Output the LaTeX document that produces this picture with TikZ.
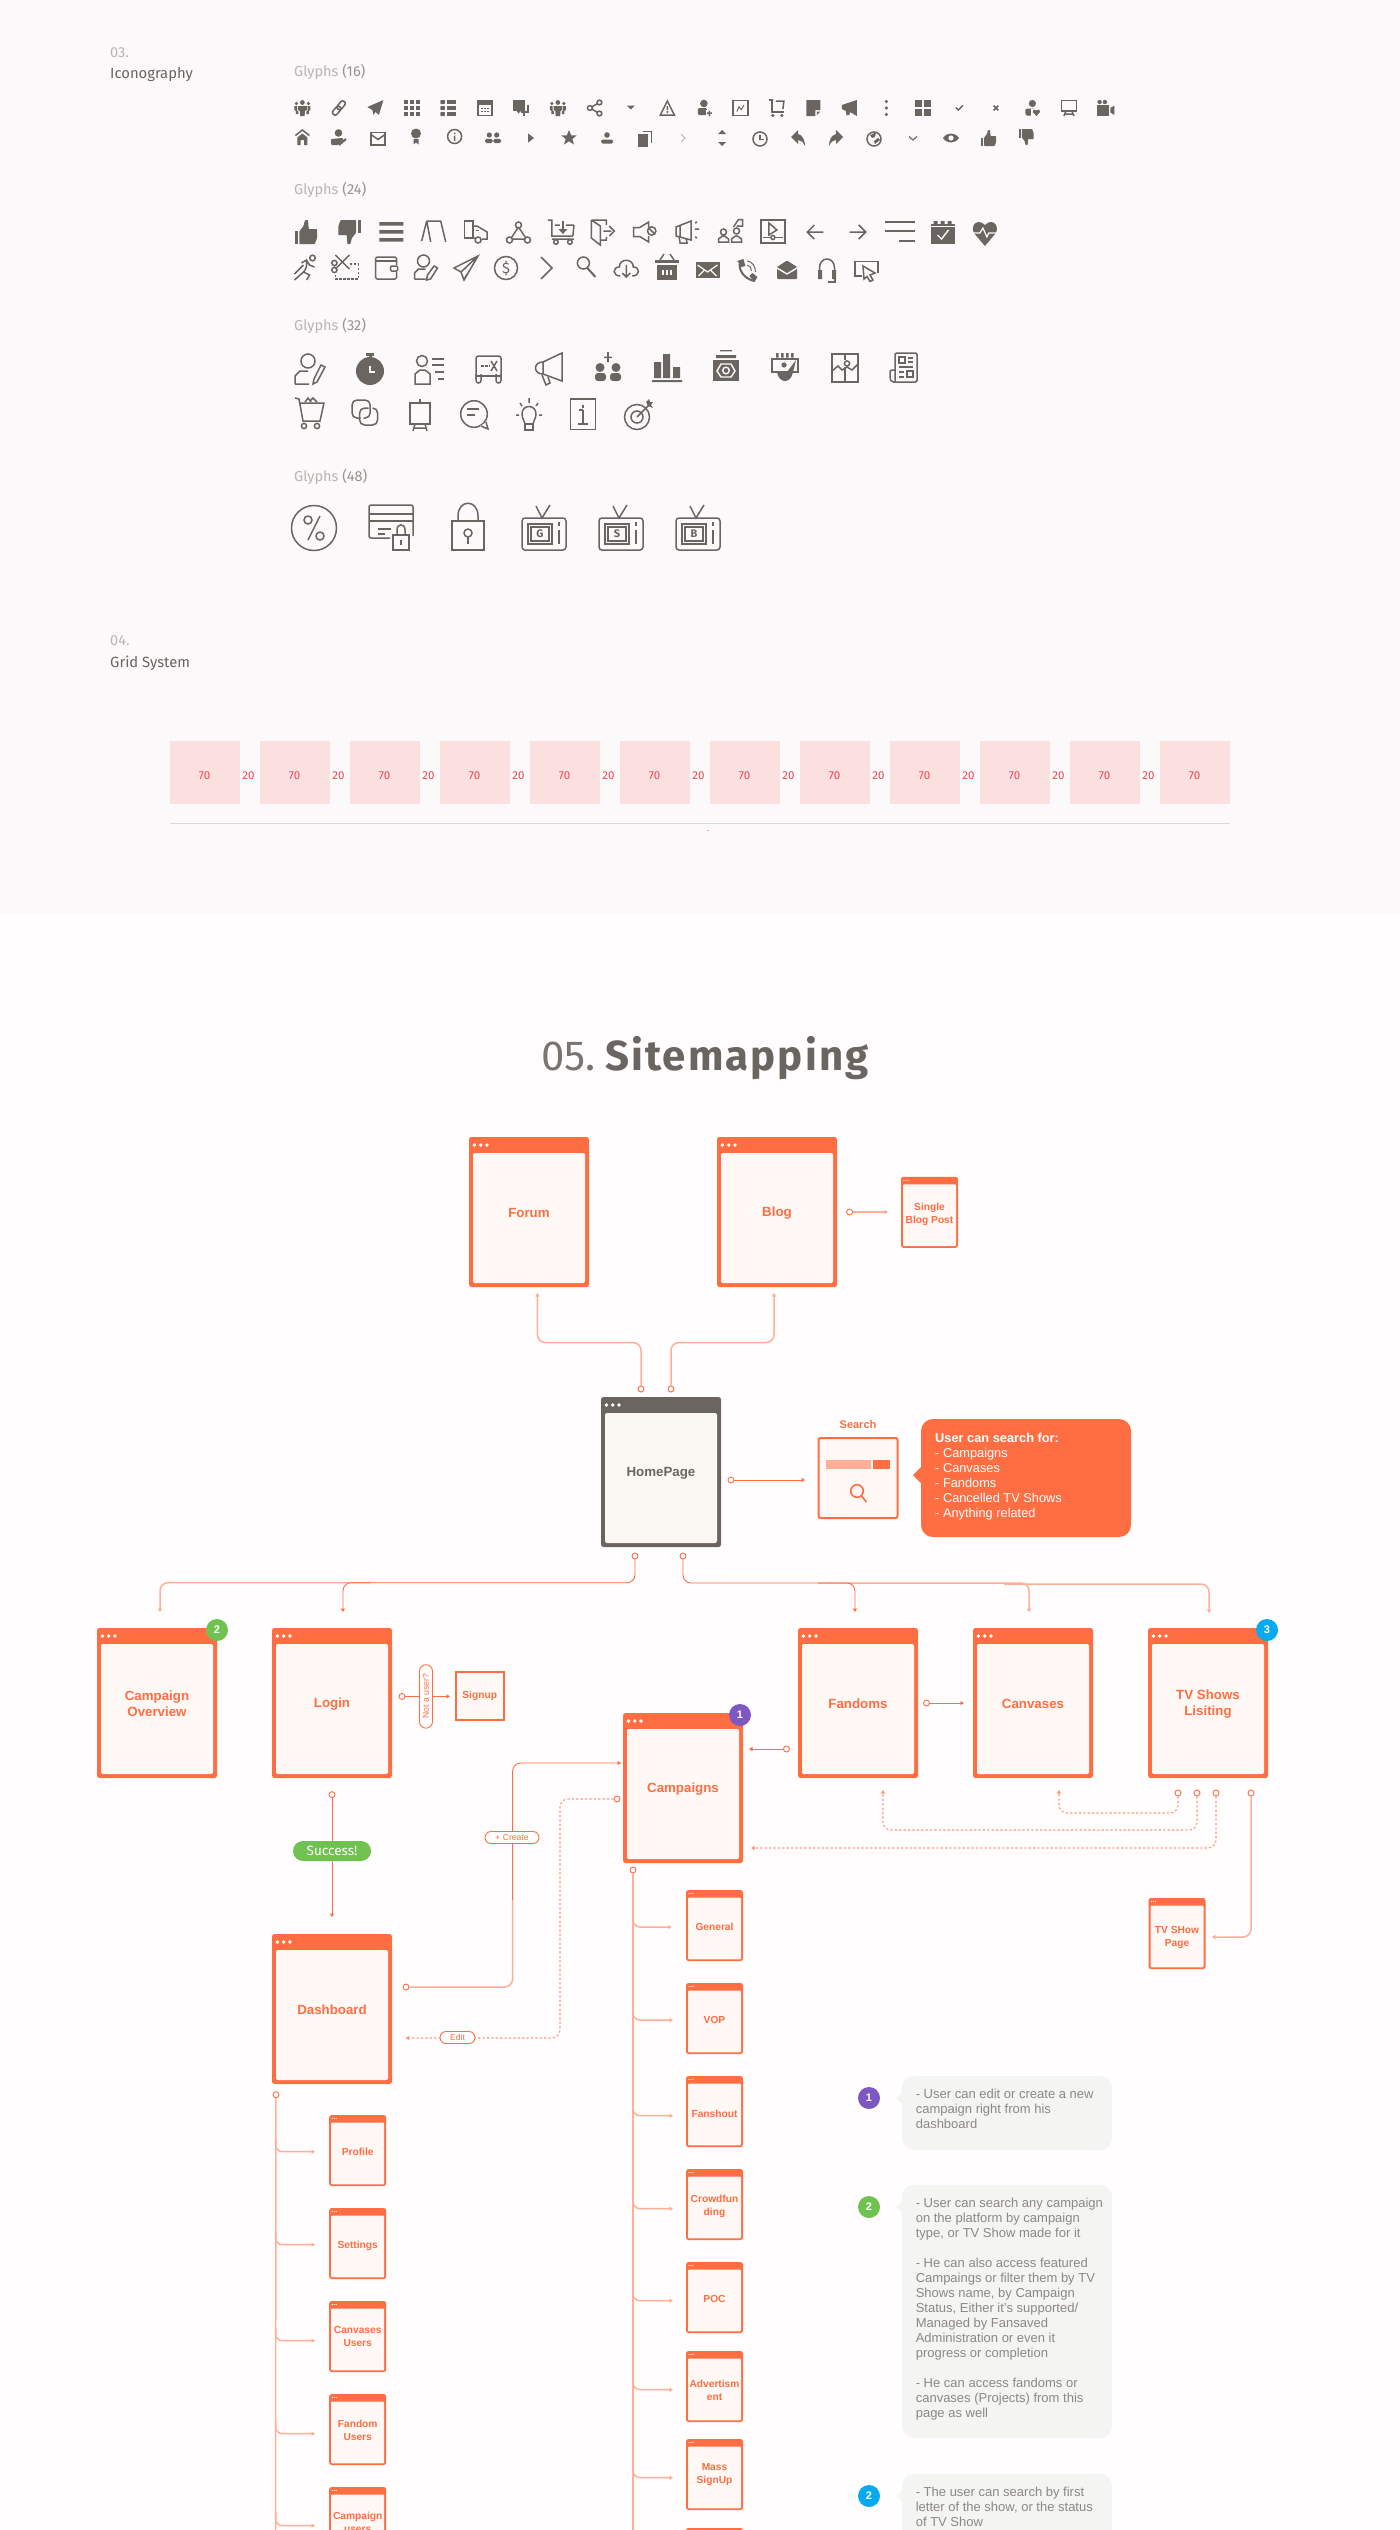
\documentclass[tikz,border=0pt]{standalone}
\usepackage{fontspec}
\setmainfont{Liberation Sans}
\newfontfamily\din{Fira Sans}
\newfontfamily\dinw[LetterSpace=5]{Fira Sans}
\usetikzlibrary{arrows.meta}
\definecolor{bgtop}{HTML}{FBF9F9}
\definecolor{bgpage}{HTML}{FFFDFD}
\definecolor{ic}{HTML}{6B6561}
\definecolor{og}{HTML}{FF6D42}
\definecolor{lt}{HTML}{FFAF98}
\definecolor{wf}{HTML}{FFF8F5}
\definecolor{hf}{HTML}{FBF8F4}
\definecolor{gridp}{HTML}{FCE0E0}
\definecolor{gridt}{HTML}{F2434F}
\definecolor{notef}{HTML}{F4F4F3}
\definecolor{notet}{HTML}{8B8886}
\definecolor{gr}{HTML}{6FC24F}
\definecolor{pu}{HTML}{7D57C2}
\definecolor{bl}{HTML}{09A9F0}
\definecolor{glab}{HTML}{B8B5B3}
\tikzset{
 x=1pt,y=-1pt,
 ii/.style={draw=ic,line width=1.5pt,fill=none},
 thinl/.style={draw=ic,line width=1pt,fill=none},
 conn/.style={draw=og,line width=.9pt,rounded corners=8pt,-{Triangle[length=3.5pt,width=4pt]}},
 lconn/.style={draw=lt,line width=1.5pt,rounded corners=8pt,-{Triangle[length=3.5pt,width=4pt,fill=og]}},
 plain/.style={draw=lt,line width=1.5pt},
 dconn/.style={draw=og!70!white,line width=1.1pt,dash pattern=on 2.2pt off 2.2pt,rounded corners=8pt,-{Triangle[length=3.5pt,width=4pt,fill=og]}},
 port/.style={circle,draw=og,line width=.9pt,fill=bgpage,minimum size=6pt,inner sep=0pt},
 shell/.style={rectangle,rounded corners=2.5pt,inner sep=0pt},
 wintxt/.style={text=og,font=\fontsize{13.3}{15.7}\selectfont\bfseries,align=center,inner sep=0pt},
 smalltxt/.style={text=og,font=\fontsize{10.2}{13}\selectfont\bfseries,align=center,inner sep=0pt},
 badge/.style={circle,minimum size=22pt,inner sep=0pt,text=white,font=\fontsize{11}{11}\selectfont\bfseries},
 pill/.style={draw=og,line width=.9pt,fill=bgpage,text=og,inner sep=0pt,font=\fontsize{8.6}{9}\selectfont},
 notetxt/.style={text=notet,font=\fontsize{13}{15}\selectfont,align=left,anchor=north west,inner sep=0pt},
 glabel/.style={text=glab,font=\din\fontsize{14.5}{15}\selectfont,anchor=west,inner sep=0pt},
 sect/.style={text=glab,font=\din\fontsize{14.5}{15}\selectfont,anchor=west,inner sep=0pt},
 secth/.style={text=ic,font=\din\fontsize{14.8}{15}\selectfont,anchor=west,inner sep=0pt},
 gridlab/.style={text=gridt,font=\din\fontsize{11.5}{12}\selectfont,inner sep=0pt},
 cnote/.style={text=white,font=\fontsize{12.8}{15}\selectfont,align=left,anchor=north west,inner sep=0pt}
}
\newcommand\I[3]{\begin{scope}[shift={(#1,#2)}]#3\end{scope}}
\newcommand\pers[3]{\fill[ic] (#1,#2) circle (#3); \fill[ic,rounded corners=1.2pt] ({#1-1.6*#3},{#2+1.3*#3}) rectangle ({#1+1.6*#3},{#2+3.9*#3});}
\newcommand\thumb{\fill[ic] (-8,-.5) rectangle (-5.8,8); \fill[ic,rounded corners=.6pt] (-4.8,-.5) -- (-2,-4) -- (-1,-8) -- (1,-8) -- (1.5,-2) -- (7,-2) -- (7,4) -- (5.5,8) -- (-4.8,8) -- cycle;}
\newcommand\group{\fill[ic] (0,-5.5) circle (2.4) (-6,-4.5) circle (1.8) (6,-4.5) circle (1.8); \fill[ic] (-4.4,-2) -- (4.4,-2) -- (4.4,2) -- (2.6,3) -- (2.2,8) -- (-2.2,8) -- (-2.6,3) -- (-4.4,2) -- cycle; \fill[ic] (-8,-2) -- (-5.3,-2) -- (-5.3,2.5) -- (-4,3.5) -- (-4,6) -- (-6.5,6) -- (-6.5,3) -- (-8,2) -- cycle (8,-2) -- (5.3,-2) -- (5.3,2.5) -- (4,3.5) -- (4,6) -- (6.5,6) -- (6.5,3) -- (8,2) -- cycle;}
\newcommand\arrowback{\fill[ic] (-7,-1) -- (0,-8) -- (0,-4) .. controls (5,-3) and (7,3) .. (7,8) .. controls (5,4) and (3,2) .. (0,2) -- (0,6) -- cycle;}
\newcommand\bigwin[4]{%
 \node[shell,fill=og,minimum width=120pt,minimum height=150pt] (#1) at (#2,#3) {};
 \begin{scope}[shift={(#2,#3)}]
 \fill[fill=wf,rounded corners=2pt] (-56,-59) rectangle (56,71);
 \foreach \d in {-54.6,-48.3,-42} \fill[white] (\d,-67) circle (1.9);
 \end{scope}
 \node[wintxt] (#1t) at (#2,{#3+1}) {#4};}
\newcommand\smallwin[5]{%
 \node[shell,fill=og,minimum width=57pt,minimum height=71pt] (#1) at (#2,#3) {};
 \begin{scope}[shift={(#2,#3)}]
 \fill[fill=wf,rounded corners=1pt] (-26.5,-28) rectangle (26.5,33.8);
 \foreach \d in {-25.5,-23.5,-21.5} \fill[white] (\d,-32) circle (.6);
 \end{scope}
 \node[smalltxt] (#1t) at (#2,{#3+#5}) {#4};}
\newcommand\branch[4]{\coordinate (#1) at (#2,#3); \draw[lconn,rounded corners=7pt] (#4,{#3-13}) -- (#4,#3) -- (#1);}
\newcommand\notebox[3]{\fill[notef,rounded corners=12pt] (902,#1) rectangle (1112,#2); \fill[notef] (896,#3) -- (903,{#3-6}) -- (903,{#3+6}) -- cycle;}
\begin{document}
\begin{tikzpicture}
\useasboundingbox (0,0) rectangle (1400,2530);
\clip (0,0) rectangle (1400,2530);
\fill[bgpage] (0,0) rectangle (1400,2530);
\fill[bgtop] (0,0) rectangle (1400,913);
% headings
\node[sect] (s3) at (110,53) {03.};
\node[secth] (s3h) at (110,75) {Iconography};
\node[sect] (s4) at (110,641) {04.};
\node[secth] (s4h) at (110,663) {Grid System};
\node[glabel] (g16) at (294,72) {Glyphs \textcolor{ic!70}{(16)}};
\node[glabel] (g24) at (294,190) {Glyphs \textcolor{ic!70}{(24)}};
\node[glabel] (g32) at (294,326) {Glyphs \textcolor{ic!70}{(32)}};
\node[glabel] (g48) at (294,477) {Glyphs \textcolor{ic!70}{(48)}};
% ---------- 16 px row 1
\I{302.4}{108}{\group}
\I{338.9}{108}{\draw[ii,rounded corners=2.5pt,rotate=50] (-8.5,-2.6) rectangle (1.5,2.6) (-1.5,-2.6) rectangle (8.5,2.6);}
\I{375.4}{108}{\fill[ic] (8,-8) -- (-8,-1) -- (-3,2) -- (-2,7) -- (0,3.8) -- (3.5,7) -- cycle;}
\I{411.9}{108}{\foreach \u in {-8,-2,4} \foreach \v in {-8,-2,4} \fill[ic] (\u,\v) rectangle +(4,4);}
\I{448.4}{108}{\foreach \v in {-8,-2,4} {\fill[ic,rounded corners=.6pt] (-8,\v) rectangle +(4.5,4); \fill[ic] (-1.5,\v) rectangle +(9.5,4);}}
\I{484.9}{108}{\draw[ii] (-7,-5) rectangle (7,7.5); \fill[ic] (-7.7,-8.5) rectangle (7.7,-3); \foreach \u in {-3.5,-.5,2.5} \foreach \v in {-.5,2.5} \fill[ic] (\u,\v) rectangle +(1.6,1.6);}
\I{521.4}{108}{\fill[ic] (-8,-8) rectangle (4,2.5); \fill[ic] (-5,2.5) -- (0,2.5) -- (-3,5.5) -- cycle; \draw[ii] (6.5,-3) -- (6.5,4) -- (0,4) (2.5,4) -- (2.5,8);}
\I{557.9}{108}{\group}
\I{594.4}{108}{\draw[ii] (5,-5.5) -- (-4.5,0) -- (5,5.5); \foreach \p in {(5,-5.5),(-4.5,0),(5,5.5)} \draw[ii,fill=bgtop] \p circle (2.4);}
\I{630.9}{108}{\fill[ic] (-4,-2.5) -- (4,-2.5) -- (0,1.5) -- cycle;}
\I{667.4}{108}{\draw[ii] (0,-7) -- (7,7) -- (-7,7) -- cycle; \fill[ic] (-.8,-2) rectangle (.8,2) (-.8,3) rectangle (.8,5);}
\I{703.9}{108}{\fill[ic] (0,-4.5) circle (3.8); \fill[ic,rounded corners=1.2pt] (-6,0) rectangle (3,7); \fill[bgtop] (2,2) rectangle (9,9); \fill[ic] (3,4.4) rectangle (8,5.8) (4.8,2.5) rectangle (6.2,8);}
\I{740.4}{108}{\draw[ii] (-7.5,-7.5) rectangle (7.5,7.5); \draw[thinl] (-3.5,3.5) -- (-1.5,-1) -- (1,1.5) -- (3.5,-3);}
\I{776.9}{108}{\draw[ii] (-8,-8) -- (-5,-8) -- (-5,4) -- (7,4); \draw[ii] (-1,-7) -- (7,-7) -- (6,1); \fill[ic] (-4,7.5) circle (1.7) (5,7.5) circle (1.7);}
\I{813.4}{108}{\fill[ic] (-7,-8) -- (7,-8) -- (7,2) -- (2,2) -- (2,8) -- (-7,8) -- cycle; \fill[ic] (3.5,3.5) -- (7,3.5) -- (3.5,7) -- cycle;}
\I{849.9}{108}{\fill[ic] (-8,-3) -- (7,-8) -- (7,8) -- (0,4) -- (-.5,7) -- (-3.5,7) -- (-4,3) -- (-8,1) -- cycle;}
\I{886.4}{108}{\foreach \v in {-6.5,0,6.5} \fill[ic] (0,\v) circle (1.8);}
\I{922.9}{108}{\foreach \u in {-8,.8} \foreach \v in {-8,.8} \fill[ic] (\u,\v) rectangle +(7.2,7.2);}
\I{959.4}{108}{\draw[ic,line width=1.3pt] (-3.5,-.5) -- (-1,2) -- (3.5,-2.5);}
\I{995.9}{108}{\draw[ic,line width=1.6pt] (-2.4,-2.4) -- (2.4,2.4) (2.4,-2.4) -- (-2.4,2.4);}
\I{1032.4}{108}{\fill[ic] (0,-4.5) circle (3.6); \fill[ic,rounded corners=1.5pt] (-7,0.5) rectangle (3,7.5); \fill[bgtop] (-1,1) -- (9,1) -- (9,9) -- (-1,9) -- cycle; \fill[ic] (4,8) -- (.3,4) .. controls (-.5,1.5) and (2.5,.5) .. (4,2.5) .. controls (5.5,.5) and (8.5,1.5) .. (7.7,4) -- cycle;}
\I{1068.9}{108}{\draw[ii] (-7.5,-7.5) rectangle (7.5,3); \draw[ii] (-3,3) -- (-5,8) (3,3) -- (5,8) (-4.5,6) -- (4.5,6);}
\I{1105.4}{108}{\fill[ic] (-5.8,-6) circle (2.2) (-.5,-6) circle (2.2); \fill[ic] (-8,-3) rectangle (4,7.5); \fill[ic] (5,0) -- (9,-2.5) -- (9,7) -- (5,4.5) -- cycle;}
% 16 px row 2
\I{302.4}{138}{\draw[ii] (-7,-2.5) -- (0,-8) -- (7,-2.5); \fill[ic] (-5,-.5) -- (0,-4.5) -- (5,-.5) -- (5,7) -- (1.8,7) -- (1.8,2) -- (-1.8,2) -- (-1.8,7) -- (-5,7) -- cycle;}
\I{339}{138}{\fill[ic] (-.5,-5) circle (3.8); \fill[ic,rounded corners=1pt] (-8,7) -- (-8,1) -- (3,0) -- (5,1) -- (-1,7) -- cycle; \draw[ic,line width=2pt] (0,7) -- (7,1);}
\I{378}{138}{\draw[ii] (-7,-5.5) rectangle (7,7); \draw[ii] (-7,-3.5) -- (0,1.5) -- (7,-3.5);}
\I{416}{138}{\fill[ic] (0,-4.5) circle (5); \fill[ic] (-2.5,1) -- (2.5,1) -- (2.5,6.5) -- (0,4.5) -- (-2.5,6.5) -- cycle;}
\I{454.6}{138}{\draw[ii] (0,-1.5) circle (7); \fill[ic] (-.8,-2.5) rectangle (.8,3) (-.8,-5.5) rectangle (.8,-3.8);}
\I{493}{138}{\fill[ic] (-3.7,-3) circle (2.6) (3.7,-3) circle (2.6); \fill[ic,rounded corners=1.5pt] (-8,.8) rectangle (-.3,5) (.3,.8) rectangle (8,5);}
\I{531}{138}{\fill[ic] (-2.8,-4.5) -- (3,0) -- (-2.8,4.5) -- cycle;}
\I{569}{138}{\fill[ic] (0,-8) -- (2.2,-2.6) -- (7.6,-2.5) -- (3.4,1) -- (4.9,6.5) -- (0,3.3) -- (-4.9,6.5) -- (-3.4,1) -- (-7.6,-2.5) -- (-2.2,-2.6) -- cycle;}
\I{607}{138}{\fill[ic] (0,-3) circle (2.8); \fill[ic,rounded corners=1.5pt] (-6,1.5) rectangle (6,5.5);}
\I{645}{138}{\fill[ic] (-7,-4) rectangle (3,9); \draw[ii] (-2.5,-6.5) -- (6.3,-6.5) -- (6.3,5);}
\I{683}{138}{\draw[draw=glab,line width=.9pt] (-2,-4) -- (2,0) -- (-2,4);}
\I{722}{138}{\fill[ic] (0,-8) -- (4,-4) -- (-4,-4) -- cycle (0,8) -- (4,4) -- (-4,4) -- cycle;}
\I{760}{138}{\draw[ii] (0,1) circle (7); \draw[ii] (0,-3) -- (0,1.5) -- (4,1.5);}
\I{798}{138}{\arrowback}
\I{836}{138}{\begin{scope}[xscale=-1]\arrowback\end{scope}}
\I{874}{138}{\draw[ii] (0,1) circle (7); \fill[ic] (-4,-3) -- (2,-5.5) -- (1,-1) -- (-2,0) -- cycle (4,0) -- (6,2) -- (1,6) -- (0,3) -- cycle;}
\I{913}{138}{\draw[ic,line width=1.1pt] (-4,-1.5) -- (0,2) -- (4,-1.5);}
\I{951}{138}{\fill[ic] (-8,0) .. controls (-4,-6) and (4,-6) .. (8,0) .. controls (4,6) and (-4,6) .. (-8,0) -- cycle; \fill[bgtop] (0,0) circle (2.6);}
\I{989}{138}{\thumb}
\I{1026.6}{138}{\begin{scope}[yscale=-1,shift={(0,1)}]\thumb\end{scope}}
% ---------- 24 px row 1
\I{306.5}{232}{\begin{scope}[scale=1.5]\thumb\end{scope}}
\I{348.9}{232}{\begin{scope}[scale=1.5,yscale=-1,xscale=-1]\thumb\end{scope}}
\I{391.3}{232}{\fill[ic] (-12,-10) rectangle (12,-6.5) (-12,-2) rectangle (12,1.5) (-12,6) rectangle (12,9.5);}
\I{433.7}{232}{\draw[ii] (-7,-11) -- (7,-11) -- (12,10) (-7,-11) -- (-12,9) (-7,-11) -- (-3,10);}
\I{476.1}{232}{\draw[ii] (-11.5,-11) rectangle (-3,6); \draw[ii] (-3,-6) -- (1,-6) -- (11,0) -- (11,7) -- (6,7) (-3,6) -- (-1,6); \draw[ii] (2,8) circle (3);\draw[ic,line width=1pt] (0,-2) -- (3,-2);}
\I{518.5}{232}{\draw[ii] (0,-5) -- (-8,7) -- (8,7) -- cycle; \foreach \p in {(0,-7),(-9,8),(9,8)} \draw[ii,fill=bgtop] \p circle (3);}
\I{560.9}{232}{\draw[ii] (-13,-12) -- (-9,-12) -- (-9,4) -- (12,4) (-9,7) -- (13,7) (12,4) -- (13,-7) (-6,-7) -- (-1,-7) (5,-7) -- (13,-7); \draw[ii] (2,-11) -- (2,-1); \fill[ic] (-2.5,-3) -- (6.5,-3) -- (2,2) -- cycle; \draw[ii] (-5,10) circle (2.3) (9,10) circle (2.3);}
\I{603.3}{232}{\draw[ii] (-12,-12) -- (3,-12) -- (3,-7) (3,5) -- (3,8) -- (-3,8) (-12,-12) -- (-12,6) -- (-3,13) -- (-3,-6) -- (-12,-12); \draw[ii] (0,-1) -- (8,-1) (6,-6) -- (11,-1) -- (6,4);}
\I{645.7}{232}{\draw[ii] (-12,-4.5) -- (-6,-4.5) -- (3,-10) -- (3,10) -- (-6,4.5) -- (-12,4.5) -- cycle; \fill[bgtop] (1,-4) rectangle (5,4); \draw[ii] (6,-1) circle (4.2); \draw[ii] (3,-4) -- (9,2);}
\I{688.1}{232}{\draw[ii] (-12,-5) -- (3,-11) -- (3,8) -- (-12,4) -- cycle (-8,-6) -- (-8,5); \draw[ii] (-9,5) -- (-8,11) -- (-1,11) -- (-2,7); \draw[ii] (7,-9) -- (9,-10) (7,-3) -- (11,-3) (7,5) -- (9,6);}
\I{730.5}{232}{\draw[ii] (-7,0) circle (3) (6,-1) circle (3) (-12,10) -- (-12,7) -- (-8,4) -- (-6,4) -- (-2,7) -- (-2,10) -- cycle (1,10) -- (1,7) -- (5,4) -- (7,4) -- (11,7) -- (11,10) -- cycle; \draw[ii] (3,-5) -- (8,-12.5) -- (12,-12.5) -- (12,-6) -- (6,-6);}
\I{772.9}{232}{\draw[ii] (-12,-12) rectangle (12,11); \draw[ii] (-4,-9) -- (4,-2) -- (-4,3) -- cycle; \draw[ii] (-10,5.5) -- (10,5.5); \draw[ii,fill=bgtop] (0,5.5) circle (2);}
\I{815.3}{232}{\draw[ii] (8,0) -- (-8,0) (-1,-7) -- (-8,0) -- (-1,7);}
\I{857.7}{232}{\draw[ii] (-8,0) -- (8,0) (1,-7) -- (8,0) -- (1,7);}
\I{900.1}{232}{\draw[ii] (-15,-10) -- (15,-10) (-15,-1) -- (15,-1); \draw[ic,line width=1.8pt] (-1,9) -- (15,9);}
\I{942.5}{232}{\fill[ic] (-12,-8) rectangle (12,12); \fill[ic] (-9,-11) rectangle (-5,-8) (-2,-11) rectangle (2,-8) (5,-11) rectangle (9,-8); \draw[bgtop,line width=1.4pt] (-5,3) -- (-1,7) -- (6,-2); \draw[bgtop,line width=.7pt] (-12,-6) -- (12,-6);}
\I{984.9}{232}{\fill[ic] (0,14) -- (-11,1) .. controls (-14,-6) and (-10,-10) .. (-6,-10) .. controls (-4,-10) and (-2,-9) .. (0,-7) .. controls (2,-9) and (4,-10) .. (6,-10) .. controls (10,-10) and (14,-6) .. (11,1) -- cycle; \draw[bgtop,line width=1.2pt] (-13,1) -- (-5,1) -- (-2,-4) -- (2,5) -- (4,1) -- (13,1);}
% 24 px row 2
\I{306.5}{268}{\draw[ii] (-5,-5) -- (0,-8) -- (3,-3) -- (8,-1) (0,-8) .. controls (1,-2) and (-1,2) .. (-3,4) -- (-12,12) (-3,4) -- (3,7) -- (0,12) (-3,-3) -- (-12,6); \draw[ii] (6,-10) circle (2.8);}
\I{346.4}{268}{\draw[ii] (-11,-13) -- (3,1) (3,-13) -- (-11,1); \fill[bgtop] (-13.5,-5) circle (3.3) (-13.5,5) circle (3.3); \draw[ii] (-12,-5) circle (2.6) (-12,2) circle (2.6); \draw[ii,dash pattern=on 2.2pt off 1.8pt] (-11,7) -- (-11,11) -- (12,11) -- (12,-4) -- (4,-4);}
\I{385.6}{268}{\draw[ii,rounded corners=1.5pt] (-10,-11) rectangle (11,11); \draw[ii] (-10,-7) -- (11,-7); \fill[bgtop] (8,-3) rectangle (13,4); \draw[ii,rounded corners=1pt] (5,-2) rectangle (12,3);}
\I{425.5}{268}{\draw[ii] (-2,-7) circle (6); \draw[ii] (-11,11) -- (-11,5) -- (-7,1) -- (0,1) (-11,11) -- (0,11); \draw[ii] (12,0) -- (5,11) -- (1,12) -- (2,7) -- (8.5,-2) -- cycle;}
\I{466}{268}{\draw[ii] (12,-12) -- (-12,0) -- (-5,4) -- (-2,12) -- cycle (12,-12) -- (-5,4); \draw[ii] (-2,12) -- (1,6);}
\I{506}{268}{\draw[ii] (0,0) circle (11.5); \node[text=ic,font=\din\fontsize{15}{15}\selectfont,inner sep=0pt] (dollar) at (0,0) {\$};}
\I{546.5}{268}{\draw[ii] (-5.5,-11) -- (5.5,0) -- (-5.5,11);}
\I{586.4}{268}{\draw[ii] (-3,-5) circle (6); \draw[ic,line width=2pt] (1,0) -- (9,9);}
\I{626.3}{268}{\draw[ii] (-6,8) .. controls (-14,8) and (-14,-1) .. (-7,-1) .. controls (-7,-10) and (7,-10) .. (7,-1) .. controls (14,-1) and (14,8) .. (6,8); \draw[ii] (0,-3) -- (0,9) (-4,5) -- (0,9) -- (4,5);}
\I{667}{268}{\fill[ic] (-12,-8) rectangle (12,-5); \draw[ii] (-7,-8) -- (-3,-14) (7,-8) -- (3,-14); \fill[ic] (-10,-3) rectangle (10,12); \draw[bgtop,line width=1.2pt] (-4,2) -- (-4,7) (0,2) -- (0,7) (4,2) -- (4,7);}
\I{707.5}{270}{\fill[ic] (-12,-8) rectangle (12,8); \draw[bgtop,line width=1.2pt] (-10,-5) -- (0,2) -- (10,-5) (-9,6) -- (-3,0) (9,6) -- (3,0);}
\I{747.4}{270}{\draw[ii,line width=2pt] (-7,-8) .. controls (-10,-2) and (-4,9) .. (7,11); \fill[ic] (-10,-9) -- (-4,-11) -- (-2,-4) -- (-6,-3) -- cycle (2,6) -- (5,3) -- (10,7) -- (7,12) -- cycle; \draw[thinl] (0,-9) .. controls (5,-8) and (8,-4) .. (8,2) (0,-5) .. controls (3,-4) and (4,-2) .. (4,1);}
\I{787}{270}{\fill[ic,rounded corners=1pt] (-10,-3) -- (0,-9.5) -- (10,-3) -- (10,9) -- (-10,9) -- cycle; \draw[bgtop,line width=1.4pt] (-10,-2) -- (0,4) -- (10,-2);}
\I{827}{270}{\draw[ii] (-7.5,3) -- (-7.5,-2) .. controls (-7.5,-14) and (7.5,-14) .. (7.5,-2) -- (7.5,3); \fill[ic] (-9,0) rectangle (-5,9) (5,0) rectangle (9,9); \draw[ii] (8,9) -- (8,12) -- (1,12);}
\I{867}{270}{\draw[ii] (-5,6) -- (-12,6) -- (-12,-8.5) -- (11,-8.5) -- (11,3); \draw[ii] (-4,-4) -- (8,3) -- (3,5) -- (6,10) -- (3,11.5) -- (0,6.5) -- (-3,9) -- cycle;}
% ---------- 32 px row 1
\I{309}{368}{\draw[ii] (-1,-7) circle (7); \draw[ii] (-14,16) -- (-14,8) -- (-9,3) -- (-1,3) (-14,16) -- (0,16); \draw[ii] (16,-1) -- (8,14) -- (4,16) -- (5,11) -- (12,-3) -- cycle;}
\I{370}{368}{\fill[ic] (0,3) circle (14); \fill[ic] (-4,-15) rectangle (4,-12.5); \fill[ic] (-1.5,-13) rectangle (1.5,-10); \draw[bgtop,line width=1.2pt] (0,-2) -- (0,4) -- (5,4);}
\I{430}{368}{\draw[ii] (-8,-7) circle (5.5); \draw[ii] (-15,16) -- (-15,6) -- (-10,2) -- (-5,2) -- (0,6) -- (0,16) -- cycle; \draw[ii] (2,-9) -- (14,-9) (2,-3) -- (14,-3); \draw[ii] (5,4) -- (14,4); \draw[ii] (8,11) -- (14,11);}
\I{489}{368}{\draw[ii,rounded corners=2.5pt] (-13,11) -- (-13,-12) -- (12,-12) -- (12,11); \draw[ii,rounded corners=2.5pt] (-13,6) -- (-13,15) -- (-8,15) -- (-8,6) (12,6) -- (12,15) -- (7,15) -- (7,6); \draw[ii] (-13,8) -- (12,8); \draw[ii,dash pattern=on 2.5pt off 1.5pt] (-8,-2) -- (1,-2); \draw[ii] (2,-7) -- (8,3) (8,-7) -- (2,3);}
\I{548}{368}{\draw[ii] (-5,-6) -- (14,-15) -- (14,13) -- (-5,6) -- cycle; \draw[ii] (-5,-6) .. controls (-15,-6) and (-15,6) .. (-5,6); \draw[ii] (-6,7) -- (-2,17) -- (2,15) -- (0,9);}
\I{608}{368}{\fill[ic] (-8,-.5) circle (4.5) (8,-.5) circle (4.5); \fill[ic,rounded corners=3pt] (-13,5) rectangle (-2,13) (2,5) rectangle (13,13); \fill[ic] (-.8,-16) rectangle (.8,-6) (-4,-11.5) rectangle (4,-10);}
\I{667}{368}{\fill[ic] (-13,-6) rectangle (-6,10) (-4,-14) rectangle (3,10) (6,-1) rectangle (13,10) (-15,12) rectangle (15,14);}
\I{726}{368}{\fill[ic] (-13,-8) rectangle (13,13); \fill[ic] (-6,-18) rectangle (6,-16.7) (-10,-13) rectangle (10,-10); \draw[bgtop,line width=1.4pt] (-5,-4) -- (5,-4) -- (9,3) -- (5,9) -- (-5,9) -- (-9,3) -- cycle; \draw[bgtop,line width=1.4pt] (0,2.5) circle (3.3);}
\I{785}{368}{\draw[ii] (-13,-9) rectangle (13,4); \fill[ic] (-9,-15) rectangle (-6.5,-10.5) (-4,-15) rectangle (-1.5,-10.5) (1,-15) rectangle (3.5,-10.5) (6,-15) rectangle (8.5,-10.5); \fill[ic] (-8,4) .. controls (-6,16) and (6,16) .. (8,4) -- (11,-8) -- (2,4) -- cycle; \fill[ic] (-1,-3) circle (2.6);}
\I{845}{368}{\draw[ii] (-13,-14) rectangle (13,14); \draw[ii] (-13,3) -- (-7,-2) -- (-3,2) -- (2,-1) -- (7,2) -- (13,-4); \draw[ii] (0,-1) -- (0,14) (0,-14) -- (0,-8); \draw[ii] (2,-4.5) circle (2.6);}
\I{904}{368}{\draw[ii,rounded corners=1.5pt] (-9,10) -- (-9,-15) -- (13,-15) -- (13,14) -- (-12,14) -- (-14,11) -- (-14,2) -- (-9,2) (-9,10) -- (-9,14); \draw[ii] (-5,-11) rectangle (1,-5); \draw[ii] (4,-10) -- (9,-10) (4,-6) -- (9,-6) (-5,-1) -- (9,-1); \draw[ii] (-5,4) -- (0,4) (-5,9) -- (0,9); \draw[ii] (3,3) rectangle (9,9);}
% 32 px row 2
\I{310}{415}{\draw[ii] (-15,-17) -- (-11,-16) -- (-7,6) -- (10,6) -- (14,-12) -- (-11,-12); \draw[ii] (-5,-13) -- (-2,-17) -- (1,-13) (0,-14) -- (3,-17) -- (7,-13); \draw[ii] (-6,11) circle (2.6) (7,11) circle (2.6);}
\I{364.6}{415}{\draw[ii,rounded corners=5pt] (-4,3) -- (-12.6,3) -- (-12.6,-15) -- (5.6,-15) -- (5.6,3) -- (-1,3); \draw[ii,rounded corners=5pt] (4,-7) -- (-5,-7) -- (-5,10) -- (13,10) -- (13,-7) -- (8,-7);}
\I{420}{415}{\draw[ii] (-10,-12) rectangle (10,9); \draw[ii] (0,-12) -- (0,-16); \draw[ii] (-5,9) -- (-7,16) (5,9) -- (7,16) (-6,13) -- (6,13);}
\I{474}{415}{\draw[ii] (0,-1) circle (13.3); \fill[bgpage] (6,11) -- (14,15) -- (13,7) -- cycle; \draw[ii] (7,11) -- (14,14) -- (12,7); \draw[ii] (-7,-6) -- (5,-6) (-7,0) -- (1,0);}
\I{529}{415}{\draw[ii] (-7,-1) .. controls (-7,-11) and (7,-11) .. (7,-1) .. controls (7,4) and (4,6) .. (4,9) -- (-4,9) .. controls (-4,6) and (-7,4) .. (-7,-1); \draw[ii] (-4,9) rectangle (4,15); \draw[ii] (0,-17) -- (0,-12) (-9,-12) -- (-7,-9) (9,-12) -- (7,-9) (-13,0) -- (-10,0) (13,0) -- (10,0);}
\I{583}{415}{\draw[ii] (-12.5,-16) rectangle (12.5,14.5); \fill[ic] (-1.3,-10) rectangle (1.3,-7.5); \draw[ii] (0,-5) -- (0,9) (-4,-5) -- (0,-5) (-5,9) -- (5,9);}
\I{638}{415}{\draw[ii] (-1,2) circle (12.5); \draw[ii] (-1,2) circle (6); \draw[ii] (-1,2) -- (11,-10); \fill[ic] (8,-13) -- (10,-9) -- (15,-7) -- (13,-10) -- (15,-13) -- (12,-13) -- (11,-16) -- cycle;}
% ---------- 48 px
\I{314}{528}{\draw[ii] (0,0) circle (22.5); \draw[ii] (-6,-8) circle (4) (6,8) circle (4); \draw[ii] (6,-12) -- (-6,12);}
\I{391}{528}{\draw[ii,rounded corners=2pt] (-1,10) -- (-22,10) -- (-22,-23) -- (22,-23) -- (22,8); \draw[ii] (-22,-14) -- (22,-14) (-22,-7) -- (22,-7) (-13,1) -- (0,1) (-13,6) -- (-6,6); \fill[bgtop] (1,1) rectangle (20,23.5); \draw[ii] (2,7) rectangle (18,22); \draw[ii] (6,7) -- (6,2) .. controls (6,-5) and (14,-5) .. (14,2) -- (14,7); \draw[ii] (10,12) -- (10,17);}
\I{468}{528}{\draw[ii] (-16,-7) rectangle (16,22); \draw[ii] (-10,-7) -- (-10,-12) .. controls (-10,-29) and (10,-29) .. (10,-12) -- (10,-7); \draw[ii] (0,5) circle (4); \draw[ii] (0,9) -- (0,16);}
\foreach \cx/\lt in {544/G,621/S,698/B}{
\I{\cx}{528}{\draw[ii,rounded corners=3pt] (-22,-10) rectangle (22,22); \draw[ii] (-8,-22) -- (-2,-10) -- (6,-23); \draw[ii] (-16,-4) rectangle (8,16); \draw[ii] (-13,-1) rectangle (5,13); \draw[ii] (15,-6) -- (15,-2) (15,2) -- (15,16); \node[text=ic,font=\din\fontsize{11}{11}\selectfont\bfseries,inner sep=0pt] (tv\lt) at (-4,6) {\lt};}}
% ---------- Grid
\foreach \i in {0,...,11}{
 \pgfmathsetmacro\gx{170+90*\i}
 \fill[gridp] (\gx,741) rectangle ({\gx+70},804);
 \node[gridlab] (ga\i) at ({\gx+34.5},776) {70};
}
\foreach \i in {0,...,10}{
 \pgfmathsetmacro\gx{240+90*\i}
 \node[gridlab] (gb\i) at ({\gx+8.5},776) {20};
}
\fill[draw=none,fill=ic!25] (170,822.5) rectangle (1230,823.5);
\fill[og!60] (707,829.5) rectangle (708.5,831);
% ---------- Title
\node[inner sep=0pt,anchor=base west,text=ic!90,font=\din\fontsize{42}{42}\selectfont] (tnum) at (541,1070) {05.};
\node[inner sep=0pt,anchor=base west,text=ic,font=\dinw\fontsize{42}{42}\selectfont\bfseries] (ttl) at (605,1070) {Sitemapping};
% ---------- Windows
\bigwin{forum}{529}{1212}{Forum}
\bigwin{blog}{777}{1212}{Blog}
\smallwin{single}{929.5}{1212.3}{Single\\Blog Post}{2}
\node[shell,fill=ic,minimum width=120pt,minimum height=150pt] (home) at (661,1472) {};
\fill[hf,rounded corners=2pt] (605,1413) rectangle (717,1543);
\foreach \d in {606.4,612.7,619} \fill[white] (\d,1405) circle (1.9);
\node[wintxt,text=ic] (homet) at (661,1473) {HomePage};
\bigwin{covw}{157}{1703}{Campaign\\Overview}
\bigwin{login}{332}{1703}{Login}
\bigwin{camp}{683}{1788}{Campaigns}
\bigwin{dash}{332}{2009}{Dashboard}
\bigwin{fand}{858}{1703}{Fandoms}
\bigwin{canv}{1033}{1703}{Canvases}
\bigwin{tvs}{1208}{1703}{TV Shows\\Lisiting}
\node[draw=og,line width=2pt,fill=wf,minimum width=48pt,minimum height=48pt,inner sep=0pt,smalltxt] (signup) at (479.7,1696) {Signup};
\smallwin{tvp}{1177}{1933.5}{TV SHow\\Page}{4}
\smallwin{gen}{714.5}{1925.5}{General}{1.5}
\smallwin{vop}{714.5}{2018.5}{VOP}{1.5}
\smallwin{fan}{714.5}{2111.5}{Fanshout}{2}
\smallwin{crowd}{714.5}{2204.5}{Crowdfun\\ding}{2}
\smallwin{poc}{714.5}{2297.5}{POC}{1.5}
\smallwin{adv}{714.5}{2386.5}{Advertism\\ent}{3.5}
\smallwin{mass}{714.5}{2474.5}{Mass\\SignUp}{0}
\smallwin{extra}{714.5}{2563.5}{}{0}
\smallwin{prof}{357.7}{2150.5}{Profile}{1.5}
\smallwin{sett}{357.7}{2243.5}{Settings}{2}
\smallwin{cusr}{357.7}{2336.5}{Canvases\\Users}{0}
\smallwin{fusr}{357.7}{2429.5}{Fandom\\Users}{1}
\smallwin{cmpu}{357.7}{2522.5}{Campaign\\users}{0}
% ---------- Search
\node[inner sep=0pt,text=og,font=\fontsize{11}{11}\selectfont\bfseries] (slabel) at (858,1425) {Search};
\node[draw=og,line width=2pt,fill=wf,rounded corners=2pt,minimum width=79pt,minimum height=80pt,inner sep=0pt] (sbox) at (858,1478) {};
\fill[lt] (826,1460) rectangle (871,1469);
\fill[og] (873,1460) rectangle (890,1469);
\draw[og,line width=1.6pt] (857,1491) circle (6.3);
\draw[og,line width=1.6pt] (861.5,1496) -- (866.5,1502);
\fill[og,rounded corners=12pt] (921,1419) rectangle (1131,1537);
\fill[og] (913,1475) -- (922,1466) -- (922,1484) -- cycle;
\node[cnote] (ctext) at (935,1433) {\textbf{User can search for:}\\- Campaigns\\- Canvases\\- Fandoms\\- Cancelled TV Shows\\- Anything related};
% ---------- Connectors
\node[port] (pblog) at (849.6,1212) {};
\coordinate (tsingle) at (888,1212);
\draw[lconn] (pblog) -- (tsingle);
\node[port] (pf) at (641,1389) {};
\node[port] (pb) at (671,1389) {};
\coordinate (tf) at (537.4,1293);
\coordinate (tb) at (774,1293);
\coordinate (mf) at (600,1342.5);
\coordinate (mb) at (720,1342.5);
\draw[lconn] (pf) |- (mf) -| (tf);
\draw[lconn] (pb) |- (mb) -| (tb);
\node[port] (ph) at (731,1480) {};
\coordinate (ts) at (805,1480);
\draw[conn] (ph) -- (ts);
\node[port] (ph1) at (635,1556) {};
\node[port] (ph2) at (683,1556) {};
\coordinate (tlog) at (343,1612);
\coordinate (tcov) at (160,1612);
\coordinate (cl) at (371,1582.7);
\coordinate (tfan) at (855,1612);
\coordinate (tcan) at (1029,1612);
\coordinate (ttv) at (1209,1613);
\coordinate (cr1) at (818,1583);
\coordinate (cr2) at (1004,1584);
\draw[lconn] (cl) -| (tcov);
\draw[conn] (ph1) |- (cl) -| (tlog);
\draw[lconn] (cr1) -| (tcan);
\draw[lconn] (cr2) -| (ttv);
\draw[conn] (ph2) |- (cr1) -| (tfan);
\node[port] (plog) at (402,1696.4) {};
\coordinate (tsign) at (450,1696.4);
\draw[conn] (plog) -- (tsign);
\node[pill,rotate=90,rounded corners=6.5pt,minimum width=63.5pt,minimum height=13pt] (nau) at (426,1696.4) {Not a user?};
\node[port] (pl2) at (332,1794.6) {};
\coordinate (td) at (332,1917);
\draw[conn] (pl2) -- (td);
\node[fill=gr,rounded corners=10pt,minimum width=78pt,minimum height=20pt,inner sep=0pt,text=white,font=\din\fontsize{13.5}{14}\selectfont] (succ) at (332,1851) {Success!};
\node[port] (pd) at (406,1987) {};
\coordinate (tc) at (621,1763);
\coordinate (dm) at (512.6,1900);
\draw[plain,rounded corners=8pt] (pd) -- (512.6,1987) -- (dm);
\draw[conn] (dm) |- (tc);
\node[pill,rounded corners=6pt,minimum width=54pt,minimum height=12pt] (crt) at (512,1837.5) {+ Create};
\node[port] (pc2) at (617,1799) {};
\coordinate (te) at (405.5,2038);
\coordinate (em) at (560,1900);
\draw[dconn] (pc2) -| (em) |- (te);
\node[pill,rounded corners=6pt,minimum width=35pt,minimum height=12pt] (edt) at (457.5,2037.5) {Edit};
\node[port] (pfa) at (786.5,1749) {};
\coordinate (tca) at (749,1749);
\draw[conn] (pfa) -- (tca);
\node[port] (pfb) at (926.5,1703) {};
\coordinate (tcb) at (964,1703);
\draw[conn] (pfb) -- (tcb);
\node[port] (pt1) at (1178,1793) {};
\node[port] (pt2) at (1197,1793) {};
\node[port] (pt3) at (1216,1793) {};
\node[port] (pt4) at (1251,1793) {};
\coordinate (t1) at (1059,1790);
\coordinate (t2) at (883,1790);
\coordinate (t3) at (751,1848);
\coordinate (t4) at (1212,1937);
\coordinate (m1) at (1120,1813);
\coordinate (m2) at (1000,1830);
\draw[dconn] (pt1) |- (m1) -| (t1);
\draw[dconn] (pt2) |- (m2) -| (t2);
\draw[dconn] (pt3) |- (t3);
\draw[lconn] (pt4) |- (t4);
% trunks
\node[port] (pcs) at (633,1870) {};
\coordinate (pcsb) at (633,2540);
\draw[plain] (pcs) -- (pcsb);
\branch{b1}{671.5}{1927}{633}
\branch{b2}{673}{2020}{633}
\branch{b3}{673}{2115.7}{633}
\branch{b4}{673}{2208.7}{633}
\branch{b5}{673}{2300.7}{633}
\branch{b6}{673}{2389.7}{633}
\branch{b7}{673}{2477.7}{633}
\node[port] (pds) at (276,2094.7) {};
\coordinate (pdsb) at (275.5,2540);
\draw[plain] (pds) -- (pdsb);
\branch{c1}{315}{2151.7}{275.5}
\branch{c2}{315}{2244.7}{275.5}
\branch{c3}{315}{2340.7}{275.5}
\branch{c4}{315}{2433.7}{275.5}
\branch{c5}{315}{2525.7}{275.5}
% badges
\node[badge,fill=gr] (bcov) at (217,1630) {2};
\node[badge,fill=pu] (bcamp) at (740,1715) {1};
\node[badge,fill=bl] (btv) at (1267,1630) {3};
% notes
\notebox{2076}{2150}{2098}
\notebox{2185}{2438}{2207}
\notebox{2474}{2560}{2496}
\node[badge,fill=pu] (n1) at (869,2098) {1};
\node[badge,fill=gr] (n2) at (869,2207) {2};
\node[badge,fill=bl] (n3) at (869,2496) {2};
\node[notetxt] (nt1) at (915.6,2089) {- User can edit or create a new\\campaign right from his\\dashboard};
\node[notetxt] (nt2) at (915.6,2198) {- User can search any campaign\\on the platform by campaign\\type, or TV Show made for it\\[15pt]- He can also access featured\\Campaings or filter them by TV\\Shows name, by Campaign\\Status, Either it's supported/\\Managed by Fansaved\\Administration or even it\\progress or completion\\[15pt]- He can access fandoms or\\canvases (Projects) from this\\page as well};
\node[notetxt] (nt3) at (915.6,2487) {- The user can search by first\\letter of the show, or the status\\of TV Show};
\end{tikzpicture}
\end{document}
